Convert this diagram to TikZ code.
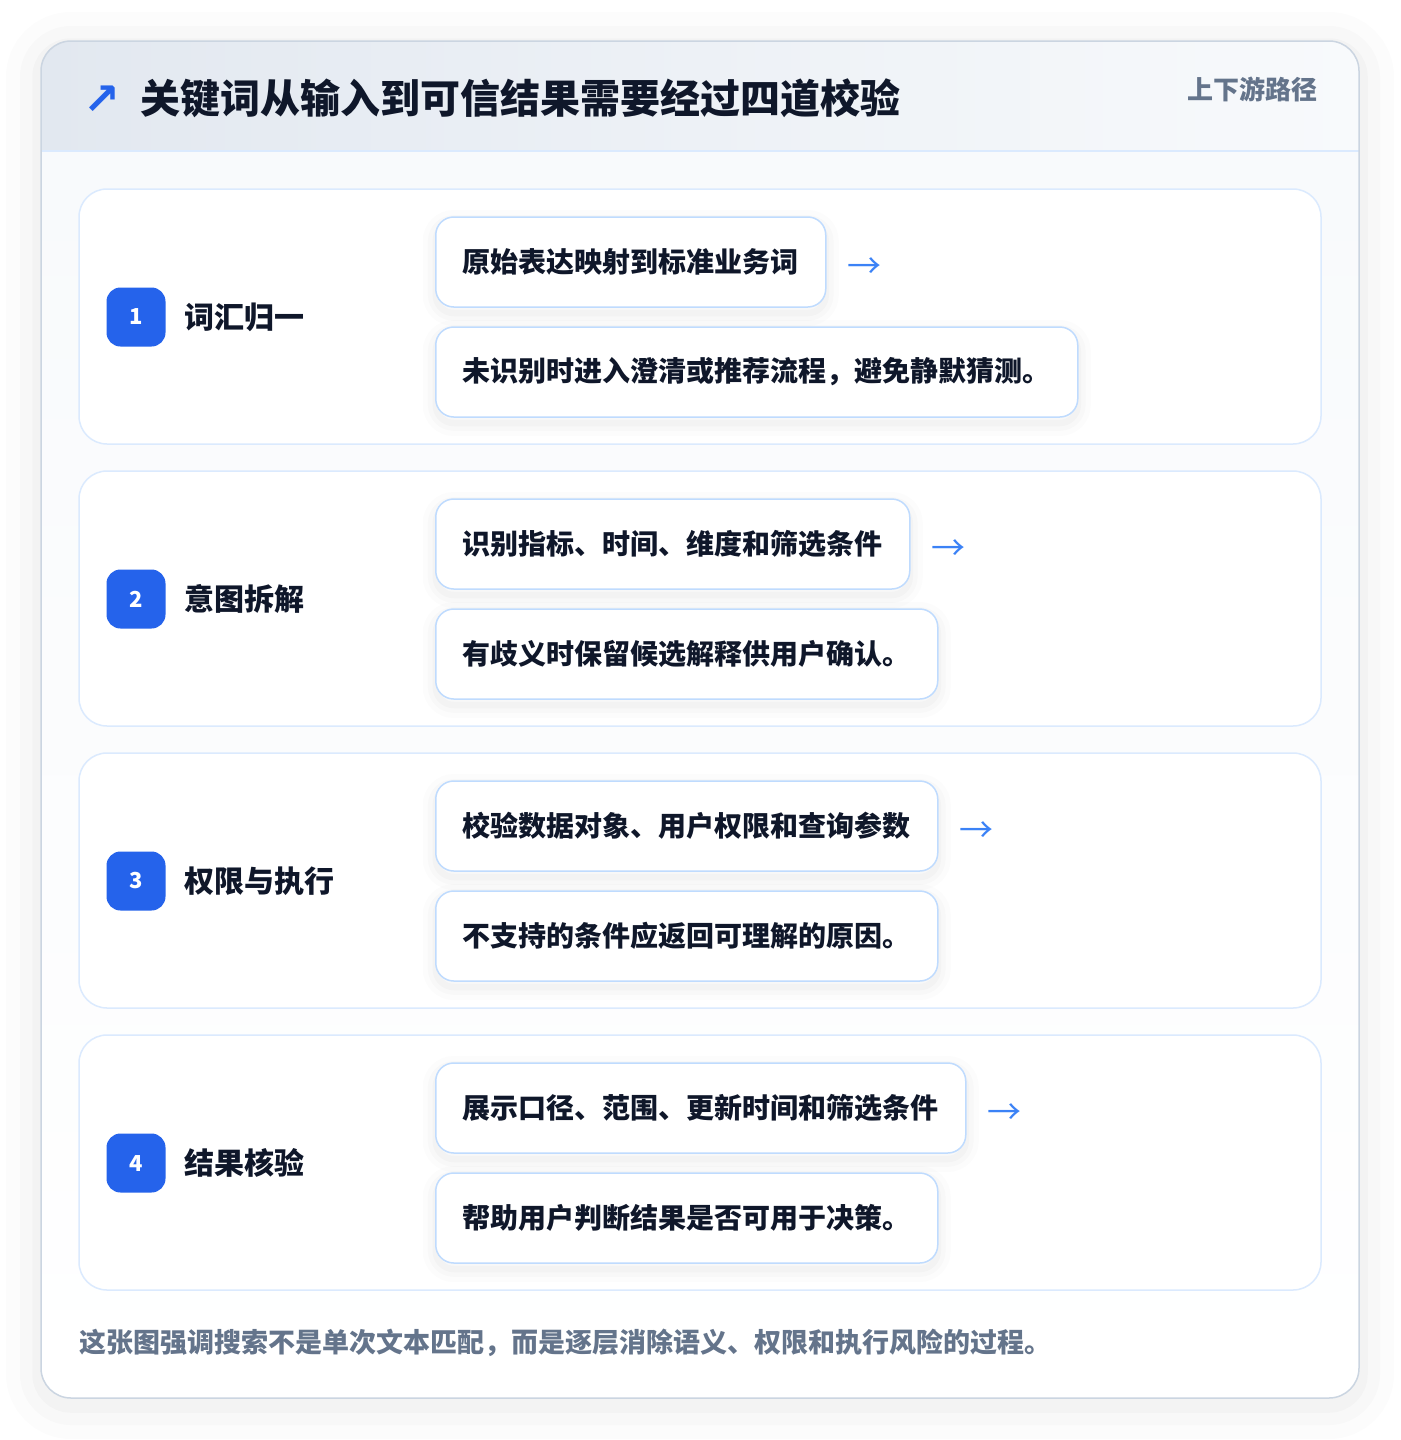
\documentclass[tikz,border=0pt]{standalone}
\usepackage{fontspec}
\setmainfont{Noto Sans CJK SC}
\newfontfamily\symfont{DejaVu Sans}
\usetikzlibrary{positioning}

\definecolor{ink}{HTML}{0F172A}
\definecolor{muted}{HTML}{64748B}
\definecolor{cardline}{HTML}{CBD5E1}
\definecolor{headl}{HTML}{E2E8F0}
\definecolor{headr}{HTML}{F8FAFC}
\definecolor{headline}{HTML}{DBEAFE}
\definecolor{bodytop}{HTML}{F8FAFC}
\definecolor{secline}{HTML}{DBEAFE}
\definecolor{boxline}{HTML}{BFDBFE}
\definecolor{badgeblue}{HTML}{2563EB}
\definecolor{arrowblue}{HTML}{3B82F6}

\tikzset{
  softshadow/.style={
    preaction={draw=black, line width=#1, opacity=0.012, transform canvas={yshift=-6pt}},
    preaction={draw=black, line width=0.6*#1, opacity=0.014, transform canvas={yshift=-6pt}},
    preaction={draw=black, line width=0.25*#1, opacity=0.018, transform canvas={yshift=-6pt}}},
  sec/.style={draw=secline, line width=1.5pt, fill=white, rounded corners=28pt,
    minimum width=1242pt, minimum height=255pt, inner sep=0pt},
  badge/.style={fill=badgeblue, rounded corners=14pt, minimum size=59pt, inner sep=0pt,
    text=white, font=\fontsize{22}{26}\selectfont\bfseries},
  steplabel/.style={anchor=west, inner sep=0pt, text=ink, font=\fontsize{30}{36}\selectfont\bfseries},
  itembox/.style={softshadow=26pt, draw=boxline, line width=1.5pt, fill=white, rounded corners=18pt,
    minimum height=90pt, inner xsep=27pt, anchor=west, text=ink,
    font=\fontsize{28}{34}\selectfont\bfseries},
  nextarrow/.style={anchor=west, inner sep=0pt, yshift=-6pt, text=arrowblue, font=\fontsize{34}{40}\selectfont}
}

\begin{document}
\begin{tikzpicture}[x=1pt, y=-1pt]
	%%%%% CARD %%%%%
	\useasboundingbox (0, 0) rectangle (1400, 1440);
	\fill[white] (0, 0) rectangle (1400, 1440);
	
	\fill[white, rounded corners=30pt, softshadow=70pt] (41, 41) rectangle (1359, 1398);
	\begin{scope}
		\clip[rounded corners=30pt] (41, 41) rectangle (1359, 1398);
		\shade[left color=headl, right color=headr] (41, 41) rectangle (1359, 151);
		\shade[top color=bodytop, bottom color=white] (41, 151) rectangle (1359, 1398);
	\end{scope}
	\draw[headline, line width=1.5pt] (41, 151) -- (1359, 151);
	\draw[cardline, line width=1.5pt, rounded corners=30pt] (41, 41) rectangle (1359, 1398);
	
	%%%%% HEADER %%%%%
	\node[inner sep=0pt, text=badgeblue, font=\symfont\fontsize{44}{48}\selectfont\bfseries] (icon) at (102, 100) {↗};
	\node[anchor=west, inner sep=0pt, text=ink, font=\fontsize{40}{48}\selectfont\bfseries] (title) at (140, 98) {关键词从输入到可信结果需要经过四道校验};
	\node[anchor=east, inner sep=0pt, text=muted, font=\fontsize{26}{30}\selectfont\bfseries] (tag) at (1318, 89) {上下游路径};
	
	%%%%% STEP 1 %%%%%
	\node[sec] (sec1) at (700, 316.5) {};
	\node[badge] (n1) at (136, 317) {1};
	\node[steplabel] (l1) at (184, 317) {词汇归一};
	\node[itembox] (b1a) at (435, 262) {原始表达映射到标准业务词};
	\node[itembox] (b1b) at (435, 372) {未识别时进入澄清或推荐流程，避免静默猜测。};
	\node[nextarrow, right=21pt of b1a] (a1) {→};
	
	%%%%% STEP 2 %%%%%
	\node[sec] (sec2) at (700, 598.5) {};
	\node[badge] (n2) at (136, 599) {2};
	\node[steplabel] (l2) at (184, 599) {意图拆解};
	\node[itembox] (b2a) at (435, 544) {识别指标、时间、维度和筛选条件};
	\node[itembox] (b2b) at (435, 654) {有歧义时保留候选解释供用户确认。};
	\node[nextarrow, right=21pt of b2a] (a2) {→};
	
	%%%%% STEP 3 %%%%%
	\node[sec] (sec3) at (700, 880.5) {};
	\node[badge] (n3) at (136, 881) {3};
	\node[steplabel] (l3) at (184, 881) {权限与执行};
	\node[itembox] (b3a) at (435, 826) {校验数据对象、用户权限和查询参数};
	\node[itembox] (b3b) at (435, 936) {不支持的条件应返回可理解的原因。};
	\node[nextarrow, right=21pt of b3a] (a3) {→};
	
	%%%%% STEP 4 %%%%%
	\node[sec] (sec4) at (700, 1162.5) {};
	\node[badge] (n4) at (136, 1163) {4};
	\node[steplabel] (l4) at (184, 1163) {结果核验};
	\node[itembox] (b4a) at (435, 1108) {展示口径、范围、更新时间和筛选条件};
	\node[itembox] (b4b) at (435, 1218) {帮助用户判断结果是否可用于决策。};
	\node[nextarrow, right=21pt of b4a] (a4) {→};
	
	%%%%% FOOTER %%%%%
	\node[anchor=west, inner sep=0pt, text=muted, font=\fontsize{27}{32}\selectfont\bfseries] (note) at (79, 1343) {这张图强调搜索不是单次文本匹配，而是逐层消除语义、权限和执行风险的过程。};
\end{tikzpicture}
\end{document}
